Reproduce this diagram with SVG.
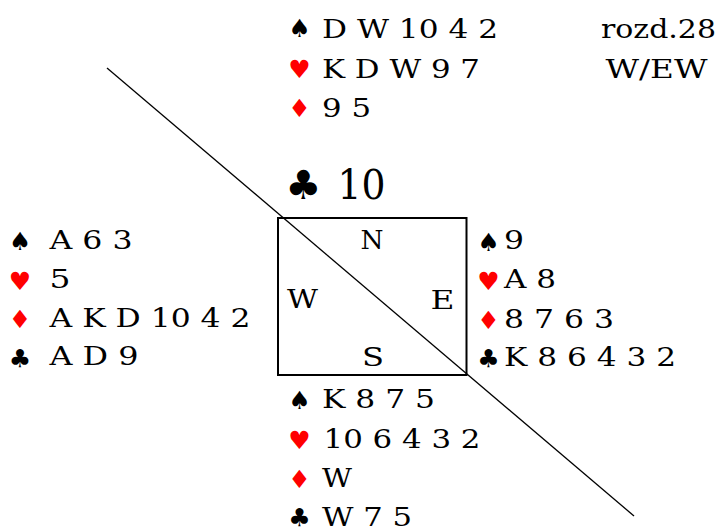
<svg xmlns="http://www.w3.org/2000/svg" width="719" height="528" viewBox="0 0 719 528">
<style>
.t{font-family:"DejaVu Serif","Liberation Serif",serif;font-size:26.5px;fill:#000}
.s{font-family:"DejaVu Sans","Noto Sans",sans-serif;font-size:25px;text-anchor:middle}
.b{fill:#000}
.r{fill:#ff0000}
</style>
<rect width="719" height="528" fill="#fff"/>
<g id="connectors">
<line x1="107" y1="68" x2="634" y2="516" stroke="#000" stroke-width="1.3"/>
</g>
<g id="table">
<rect x="278" y="218" width="188.5" height="157" fill="none" stroke="#000" stroke-width="2"/>
<text class="t" x="360.5" y="248.5" textLength="23" lengthAdjust="spacingAndGlyphs">N</text>
<text class="t" x="287" y="307.5" textLength="31" lengthAdjust="spacingAndGlyphs">W</text>
<text class="t" x="430.5" y="308.5" textLength="24" lengthAdjust="spacingAndGlyphs">E</text>
<text class="t" x="362" y="366" textLength="22" lengthAdjust="spacingAndGlyphs">S</text>
</g>
<g id="north">
<text class="s b" x="299.5" y="37">♠</text>
<text class="t" x="322" y="37.7" textLength="176" lengthAdjust="spacingAndGlyphs">D W 10 4 2</text>
<text class="s r" x="299.5" y="78">♥</text>
<text class="t" x="322" y="77.7" textLength="158" lengthAdjust="spacingAndGlyphs">K D W 9 7</text>
<text class="s r" x="299.5" y="117">♦</text>
<text class="t" x="322" y="117" textLength="49" lengthAdjust="spacingAndGlyphs">9 5</text>
</g>
<g id="info">
<text class="t" x="601" y="37.7" textLength="115" lengthAdjust="spacingAndGlyphs">rozd.28</text>
<text class="t" x="605.5" y="77.7" textLength="102" lengthAdjust="spacingAndGlyphs">W/EW</text>
</g>
<g id="lead">
<text class="s b" x="303.5" y="198.5" style="font-size:40px">♣</text>
<text class="t" x="337.5" y="198.5" style="font-size:41px" textLength="48" lengthAdjust="spacingAndGlyphs">10</text>
</g>
<g id="west">
<text class="s b" x="20" y="250">♠</text>
<text class="t" x="49.5" y="249.3" textLength="83" lengthAdjust="spacingAndGlyphs">A 6 3</text>
<text class="s r" x="20" y="290">♥</text>
<text class="t" x="49.5" y="288.3" textLength="21" lengthAdjust="spacingAndGlyphs">5</text>
<text class="s r" x="20" y="328">♦</text>
<text class="t" x="49.5" y="326.7" textLength="201" lengthAdjust="spacingAndGlyphs">A K D 10 4 2</text>
<text class="s b" x="20" y="367">♣</text>
<text class="t" x="49.5" y="365" textLength="89" lengthAdjust="spacingAndGlyphs">A D 9</text>
</g>
<g id="east">
<text class="s b" x="488.5" y="251">♠</text>
<text class="t" x="504" y="249.3" textLength="20" lengthAdjust="spacingAndGlyphs">9</text>
<text class="s r" x="488.5" y="290">♥</text>
<text class="t" x="504" y="288.3" textLength="52" lengthAdjust="spacingAndGlyphs">A 8</text>
<text class="s r" x="488.5" y="329">♦</text>
<text class="t" x="504" y="327.7" textLength="110" lengthAdjust="spacingAndGlyphs">8 7 6 3</text>
<text class="s b" x="488.5" y="367">♣</text>
<text class="t" x="504" y="365.7" textLength="172" lengthAdjust="spacingAndGlyphs">K 8 6 4 3 2</text>
</g>
<g id="south">
<text class="s b" x="299.5" y="409">♠</text>
<text class="t" x="322" y="408.3" textLength="113" lengthAdjust="spacingAndGlyphs">K 8 7 5</text>
<text class="s r" x="299.5" y="449">♥</text>
<text class="t" x="323.5" y="448.3" textLength="157" lengthAdjust="spacingAndGlyphs">10 6 4 3 2</text>
<text class="s r" x="299.5" y="488">♦</text>
<text class="t" x="322" y="487.3" textLength="30" lengthAdjust="spacingAndGlyphs">W</text>
<text class="s b" x="299.5" y="526">♣</text>
<text class="t" x="322" y="525.5" textLength="90" lengthAdjust="spacingAndGlyphs">W 7 5</text>
</g>
</svg>
